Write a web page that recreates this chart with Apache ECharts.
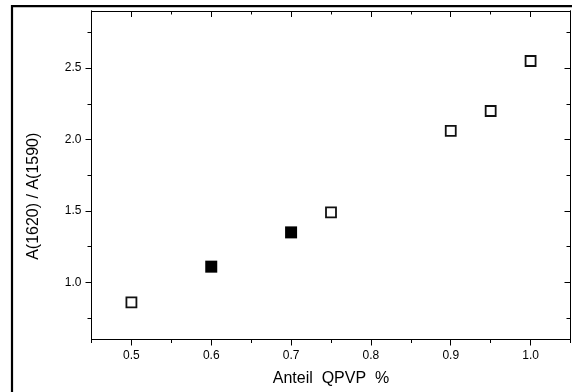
<!DOCTYPE html>
<html><head><meta charset="utf-8">
<script src="https://cdn.jsdelivr.net/npm/echarts@6/dist/echarts.min.js"></script>
<style>html,body{margin:0;padding:0;background:#fff}#c{width:572px;height:392px}</style>
</head><body><div id="c"></div>
<script>
const openX = [0.5, 0.75, 0.9, 0.95, 1.0];
const openY = [0.86, 1.49, 2.06, 2.20, 2.55];
const filledX = [0.6, 0.7];
const filledY = [1.11, 1.35];
const xMajorTicks = [0.5, 0.6, 0.7, 0.8, 0.9, 1.0];
const xMinorTicks = [0.45, 0.55, 0.65, 0.75, 0.85, 0.95, 1.05];
const yMajorTicks = [1.0, 1.5, 2.0, 2.5];
const yMinorTicks = [0.75, 1.25, 1.75, 2.25, 2.75];
const xRange = [0.45, 1.05];
const yRange = [0.6, 2.9];
const xName = 'Anteil  QPVP  %';
const yName = 'A(1620) / A(1590)';

const FONT = 'Liberation Sans, Arial, sans-serif';
const INK = '#000';

function mkAxis(dir, pos, ticks, len, withLabels, name) {
  const range = dir === 'x' ? xRange : yRange;
  const ax = {
    type: 'value', position: pos, min: range[0], max: range[1],
    axisLine: { show: true, onZero: false, lineStyle: { color: INK, width: 1 } },
    axisTick: { show: true, inside: (pos === 'top' || pos === 'right'), length: len,
      customValues: ticks, lineStyle: { color: INK, width: 1 } },
    axisLabel: { show: withLabels, customValues: ticks, color: INK, fontFamily: FONT, fontSize: 12,
      margin: 10, formatter: v => Number(v).toFixed(1) },
    splitLine: { show: false },
    minorTick: { show: false }
  };
  if (name) {
    ax.name = name;
    ax.nameLocation = 'middle';
    ax.nameTextStyle = { color: INK, fontFamily: FONT, fontSize: 16 };
    if (dir === 'x') { ax.nameGap = 31; }
    else { ax.nameGap = 50; ax.nameTextStyle.padding = [0, 42, 0, 0]; }
  }
  return ax;
}

const chart = echarts.init(document.getElementById('c'), null, { renderer: 'canvas' });
chart.setOption({
  backgroundColor: '#fff',
  animation: false,
  grid: { left: 91.5, right: 1.5, top: 11, bottom: 52.5, containLabel: false },
  xAxis: [
    mkAxis('x', 'bottom', xMajorTicks, 6, true, xName),
    mkAxis('x', 'bottom', xMinorTicks, 3.5, false),
    mkAxis('x', 'top', xMajorTicks, 6, false),
    mkAxis('x', 'top', xMinorTicks, 3.5, false)
  ],
  yAxis: [
    mkAxis('y', 'left', yMajorTicks, 6, true, yName),
    mkAxis('y', 'left', yMinorTicks, 4, false),
    mkAxis('y', 'right', yMajorTicks, 6, false),
    mkAxis('y', 'right', yMinorTicks, 4, false)
  ],
  graphic: [{
    type: 'rect', silent: true, z: 100,
    shape: { x: 12, y: 6.2, width: 620, height: 420 },
    style: { fill: null, stroke: '#000', lineWidth: 2.2 }
  }],
  series: [
    {
      type: 'scatter', xAxisIndex: 0, yAxisIndex: 0,
      symbol: 'rect', symbolSize: 10,
      itemStyle: { color: '#fff', borderColor: '#111', borderWidth: 1.8, opacity: 1 },
      data: openX.map((x, i) => [x, openY[i]])
    },
    {
      type: 'scatter', xAxisIndex: 0, yAxisIndex: 0,
      symbol: 'rect', symbolSize: 12,
      itemStyle: { color: '#000', opacity: 1 },
      data: filledX.map((x, i) => [x, filledY[i]])
    }
  ]
});
</script>
</body></html>
